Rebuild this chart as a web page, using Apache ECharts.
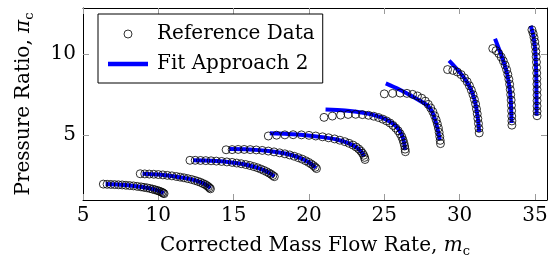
<!DOCTYPE html>
<html>
<head>
<meta charset="utf-8">
<script src="https://cdn.jsdelivr.net/npm/echarts@6/dist/echarts.min.js"></script>
<style>
  html, body { margin: 0; padding: 0; background: #fff; }
  #chart { width: 556px; height: 266px; }
</style>
</head>
<body>
<div id="chart"></div>
<script>
// reference data, one array per speed line [mass flow, pressure ratio]
var ref1 = [[6.35,1.98],[6.6,1.97],[6.85,1.96],[7.1,1.95],[7.35,1.94],[7.6,1.93],[7.85,1.91],[8.1,1.89],[8.35,1.87],[8.6,1.84],[8.85,1.81],[9.05,1.78],[9.25,1.75],[9.45,1.71],[9.62,1.67],[9.78,1.63],[9.92,1.59],[10.05,1.55],[10.16,1.51],[10.25,1.47],[10.32,1.43],[10.38,1.39]];
var ref2 = [[8.8,2.62],[9.1,2.61],[9.4,2.6],[9.7,2.59],[10.0,2.57],[10.3,2.55],[10.6,2.52],[10.9,2.49],[11.2,2.45],[11.45,2.41],[11.7,2.37],[11.95,2.32],[12.2,2.27],[12.42,2.21],[12.62,2.15],[12.8,2.09],[12.96,2.02],[13.1,1.96],[13.22,1.89],[13.32,1.82],[13.4,1.75],[13.46,1.69]];
var ref3 = [[12.1,3.45],[12.45,3.45],[12.8,3.44],[13.15,3.43],[13.5,3.42],[13.85,3.4],[14.2,3.38],[14.55,3.35],[14.9,3.32],[15.2,3.28],[15.5,3.24],[15.8,3.19],[16.08,3.13],[16.34,3.06],[16.58,2.99],[16.8,2.91],[17.0,2.83],[17.18,2.75],[17.34,2.67],[17.48,2.59],[17.6,2.51],[17.7,2.44]];
var ref4 = [[14.5,4.1],[14.9,4.11],[15.3,4.12],[15.7,4.12],[16.1,4.11],[16.5,4.09],[16.9,4.06],[17.3,4.02],[17.68,3.97],[18.05,3.91],[18.4,3.85],[18.72,3.78],[19.02,3.7],[19.3,3.61],[19.55,3.52],[19.78,3.42],[19.98,3.32],[20.15,3.22],[20.3,3.12],[20.42,3.02],[20.5,2.94]];
var ref5 = [[17.3,4.95],[17.85,5.0],[18.4,5.02],[18.95,5.03],[19.5,5.02],[20.0,4.99],[20.45,4.95],[20.9,4.9],[21.3,4.84],[21.7,4.77],[22.05,4.69],[22.38,4.6],[22.66,4.5],[22.92,4.39],[23.13,4.27],[23.3,4.15],[23.44,4.02],[23.55,3.89],[23.63,3.76],[23.69,3.63],[23.72,3.5]];
var ref6 = [[21.0,6.1],[21.55,6.18],[22.1,6.24],[22.6,6.28],[23.1,6.29],[23.55,6.27],[23.95,6.23],[24.3,6.17],[24.62,6.09],[24.9,5.99],[25.15,5.88],[25.38,5.75],[25.58,5.6],[25.76,5.44],[25.92,5.27],[26.05,5.09],[26.16,4.9],[26.24,4.71],[26.3,4.52],[26.35,4.33],[26.38,4.14],[26.4,3.98]];
var ref7 = [[25.0,7.55],[25.55,7.58],[26.05,7.6],[26.5,7.58],[26.88,7.52],[27.2,7.42],[27.48,7.28],[27.72,7.1],[27.92,6.9],[28.08,6.68],[28.22,6.45],[28.34,6.2],[28.44,5.95],[28.52,5.7],[28.59,5.44],[28.64,5.18],[28.68,4.92],[28.71,4.68],[28.73,4.48]];
var ref8 = [[29.2,9.05],[29.55,9.0],[29.85,8.9],[30.1,8.74],[30.32,8.53],[30.5,8.3],[30.65,8.05],[30.78,7.78],[30.89,7.5],[30.98,7.21],[31.06,6.92],[31.12,6.62],[31.17,6.32],[31.21,6.02],[31.25,5.72],[31.28,5.42],[31.3,5.14]];
var ref9 = [[32.2,10.35],[32.42,10.22],[32.6,10.04],[32.76,9.82],[32.9,9.58],[33.02,9.32],[33.12,9.04],[33.2,8.75],[33.27,8.45],[33.32,8.14],[33.36,7.82],[33.39,7.5],[33.42,7.17],[33.44,6.84],[33.45,6.51],[33.46,6.18],[33.47,5.88],[33.47,5.62]];
var ref10 = [[34.8,11.5],[34.88,11.28],[34.94,11.03],[34.99,10.76],[35.03,10.47],[35.06,10.16],[35.08,9.84],[35.1,9.51],[35.11,9.17],[35.12,8.83],[35.13,8.49],[35.13,8.15],[35.14,7.81],[35.14,7.47],[35.14,7.13],[35.14,6.8],[35.14,6.48],[35.14,6.2]];

// fit approach 2
var fit1 = [[6.5,1.98],[7.5,1.94],[8.5,1.85],[9.3,1.74],[9.8,1.63],[10.15,1.52],[10.35,1.42]];
var fit2 = [[8.95,2.62],[10.0,2.57],[11.0,2.47],[11.8,2.35],[12.5,2.2],[13.0,2.03],[13.3,1.86],[13.45,1.72]];
var fit3 = [[12.3,3.45],[13.5,3.42],[14.6,3.35],[15.6,3.22],[16.5,3.01],[17.1,2.8],[17.5,2.6],[17.7,2.45]];
var fit4 = [[14.7,4.14],[16.0,4.12],[17.3,4.03],[18.5,3.85],[19.4,3.6],[19.98,3.33],[20.35,3.07],[20.45,2.97]];
var fit5 = [[17.4,5.12],[18.6,5.08],[19.8,5.0],[20.9,4.88],[21.9,4.72],[22.65,4.5],[23.2,4.22],[23.5,3.95],[23.65,3.68]];
var fit6 = [[21.1,6.58],[22.4,6.52],[23.6,6.38],[24.6,6.16],[25.3,5.88],[25.85,5.48],[26.2,4.93],[26.33,4.45],[26.37,4.1]];
var fit7 = [[25.1,8.2],[26.0,7.82],[26.9,7.38],[27.5,7.05],[27.9,6.8],[28.2,6.4],[28.42,5.8],[28.58,5.2],[28.68,4.7]];
var fit8 = [[29.3,9.6],[29.8,9.1],[30.25,8.6],[30.6,8.1],[30.87,7.55],[31.05,6.95],[31.18,6.25],[31.26,5.6],[31.29,5.2]];
var fit9 = [[32.35,10.95],[32.7,10.1],[32.95,9.45],[33.15,8.8],[33.3,8.0],[33.39,7.2],[33.43,6.4],[33.45,5.75]];
var fit10 = [[34.72,11.75],[34.9,11.1],[35.0,10.4],[35.06,9.5],[35.09,8.5],[35.1,7.5],[35.11,6.5],[35.11,6.2]];

var xTicks = [5, 10, 15, 20, 25, 30, 35];
var yTicks = [5, 10];

var refLines = [ref1, ref2, ref3, ref4, ref5, ref6, ref7, ref8, ref9, ref10];
var fitLines = [fit1, fit2, fit3, fit4, fit5, fit6, fit7, fit8, fit9, fit10];

var FONT = 'DejaVu Serif';
var FS = 20;
var chart = echarts.init(document.getElementById('chart'));

var frameLine = { show: true, onZero: false, lineStyle: { color: '#000', width: 1 } };
var tick = { show: true, inside: true, length: 6, lineStyle: { color: '#9a9a9a', width: 1 } };
var nameStyle = {
    fontFamily: FONT, fontSize: FS, color: '#000',
    rich: {
        i: { fontFamily: FONT, fontSize: FS, fontStyle: 'italic', color: '#000' },
        s: { fontFamily: FONT, fontSize: 13, color: '#000', padding: [11, 0, 0, 0] }
    }
};

var series = [];
fitLines.forEach(function (d) {
    series.push({
        name: 'Fit Approach 2',
        type: 'line',
        data: d,
        smooth: 0.3,
        showSymbol: false,
        symbol: 'none',
        z: 3,
        lineStyle: { color: '#0000ff', width: 4 },
        itemStyle: { color: '#0000ff' }
    });
});
var allRef = [];
refLines.forEach(function (d) { allRef = allRef.concat(d); });
series.unshift({
    name: 'Reference Data',
    type: 'scatter',
    data: allRef,
    symbol: 'circle',
    symbolSize: 8,
    z: 4,
    itemStyle: { color: 'rgba(255,255,255,0)', borderColor: '#000', borderWidth: 1 }
});

var option = {
    animation: false,
    grid: { left: 83, right: 9, top: 8, bottom: 66 },
    legend: {
        orient: 'vertical',
        left: 98,
        top: 14,
        padding: [10, 8, 9, 10],
        itemGap: 10,
        itemWidth: 40,
        itemHeight: 8,
        borderColor: '#000',
        borderWidth: 1,
        borderRadius: 0,
        backgroundColor: '#fff',
        textStyle: { fontFamily: FONT, fontSize: FS, color: '#000', padding: [0, 0, 0, 4] },
        data: [
            { name: 'Reference Data', icon: 'circle', itemStyle: { color: 'rgba(255,255,255,0)', borderColor: '#000', borderWidth: 1 } },
            { name: 'Fit Approach 2', icon: 'path://M0,0H40V4.5H0Z', itemStyle: { color: '#0000ff' } }
        ]
    },
    xAxis: [{
        type: 'value',
        min: 5,
        max: 35.8,
        position: 'bottom',
        axisLine: frameLine,
        axisTick: Object.assign({ customValues: xTicks }, tick),
        axisLabel: { customValues: xTicks, fontFamily: FONT, fontSize: FS, color: '#000', margin: 6 },
        splitLine: { show: false },
        name: 'Corrected Mass Flow Rate, {i|m}{s|c}',
        nameLocation: 'middle',
        nameGap: 34,
        nameTextStyle: nameStyle
    }, {
        type: 'value',
        min: 5,
        max: 35.8,
        position: 'top',
        axisLine: frameLine,
        axisTick: Object.assign({ customValues: xTicks }, tick),
        axisLabel: { show: false },
        splitLine: { show: false }
    }],
    yAxis: [{
        type: 'value',
        min: 1,
        max: 12.85,
        position: 'left',
        axisLine: frameLine,
        axisTick: Object.assign({ customValues: yTicks }, tick),
        axisLabel: { customValues: yTicks, fontFamily: FONT, fontSize: FS, color: '#000', margin: 7 },
        splitLine: { show: false },
        name: 'Pressure Ratio, {i|π}{s|c}',
        nameLocation: 'middle',
        nameGap: 47,
        nameTextStyle: nameStyle
    }, {
        type: 'value',
        min: 1,
        max: 12.85,
        position: 'right',
        axisLine: frameLine,
        axisTick: Object.assign({ customValues: yTicks }, tick),
        axisLabel: { show: false },
        splitLine: { show: false }
    }],
    series: series
};
chart.setOption(option);
</script>
</body>
</html>
